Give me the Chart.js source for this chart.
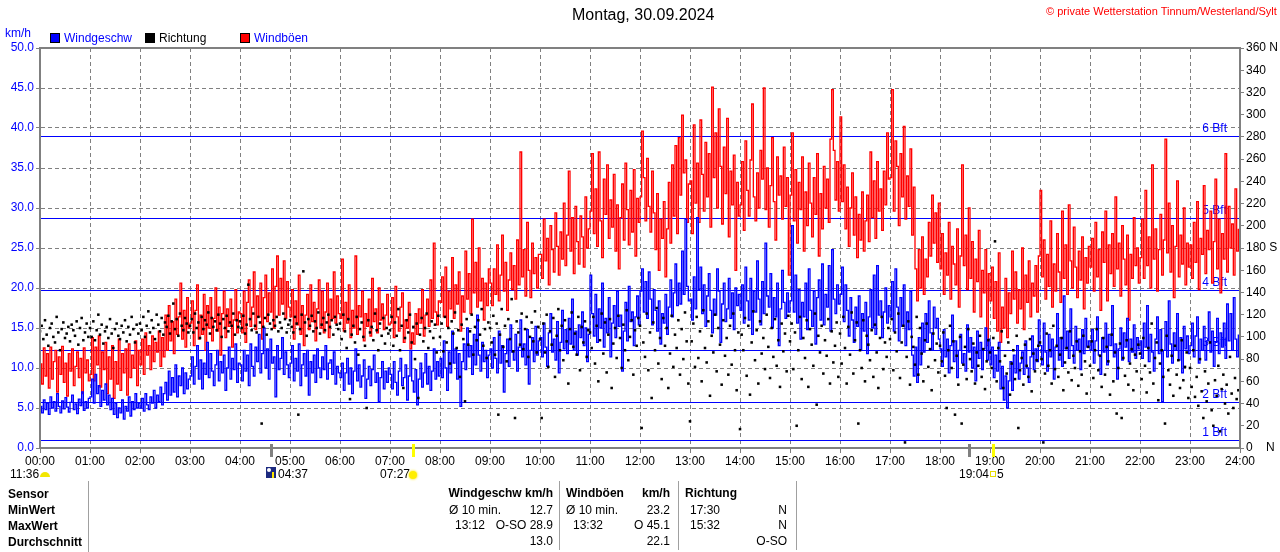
<!DOCTYPE html>
<html><head><meta charset="utf-8">
<script src="https://cdn.jsdelivr.net/npm/chart.js@4.4.1/dist/chart.umd.min.js"></script>
<style>
html,body{margin:0;padding:0;background:#fff;}
#wrap{position:relative;width:1280px;height:552px;overflow:hidden;font-family:"Liberation Sans",Arial,sans-serif;}
#wrap canvas{position:absolute;left:0;top:0;}
.t{position:absolute;white-space:nowrap;font-size:12px;line-height:14px;color:#000;}
.b{font-weight:bold;}
.box{position:absolute;width:8px;height:8px;border:1px solid #000;top:33px;}
.sep{position:absolute;width:1px;background:#a0a0a0;top:481px;height:71px;}
</style></head>
<body>
<div id="wrap">
<canvas id="c" width="1280" height="552"></canvas>
<div class="t" style="left:572px;top:6px;font-size:16px;line-height:18px;">Montag, 30.09.2024</div>
<div class="t" style="left:1046px;top:5px;font-size:11px;line-height:13px;color:#ff0000;">© private Wetterstation Tinnum/Westerland/Sylt</div>
<div class="t" style="left:5px;top:26px;color:#0000ff;">km/h</div>
<div class="box" style="left:50px;background:#0000ff;"></div>
<div class="t" style="left:64px;top:31px;color:#0000ff;">Windgeschw</div>
<div class="box" style="left:145px;background:#000;"></div>
<div class="t" style="left:159px;top:31px;">Richtung</div>
<div class="box" style="left:240px;background:#ff0000;"></div>
<div class="t" style="left:254px;top:31px;color:#0000ff;">Windböen</div>

<div class="t" style="left:10px;top:467px;">11:36</div>
<div style="position:absolute;left:40px;top:472px;width:10px;height:5px;background:#f2e600;border-radius:5px 5px 0 0;"></div>
<div style="position:absolute;left:266px;top:467px;width:10px;height:11px;background:#1c2a80;"></div>
<div style="position:absolute;left:267px;top:468px;width:4px;height:4px;background:#fff;border-radius:50%;"></div>
<div style="position:absolute;left:272px;top:472px;width:2px;height:6px;background:#ffe800;"></div>
<div class="t" style="left:278px;top:467px;">04:37</div>
<div class="t" style="left:380px;top:467px;">07:27</div>
<div style="position:absolute;left:409px;top:471px;width:8px;height:8px;background:#ffee00;border-radius:50%;box-shadow:0 0 2px 1px #fff27a;"></div>
<div class="t" style="left:959px;top:467px;">19:04</div>
<div style="position:absolute;left:990px;top:471px;width:4px;height:4px;border:1px solid #e6dc00;"></div>
<div class="t" style="left:997px;top:467px;">5</div>

<div class="sep" style="left:88px;"></div>
<div class="sep" style="left:559px;height:69px;"></div>
<div class="sep" style="left:678px;height:69px;"></div>
<div class="sep" style="left:796px;height:69px;"></div>
<div class="t b" style="left:8px;top:487px;">Sensor</div>
<div class="t b" style="left:8px;top:503px;">MinWert</div>
<div class="t b" style="left:8px;top:519px;">MaxWert</div>
<div class="t b" style="left:8px;top:535px;">Durchschnitt</div>

<div class="t b" style="right:727px;top:486px;">Windgeschw km/h</div>
<div class="t b" style="left:566px;top:486px;">Windböen</div>
<div class="t b" style="right:610px;top:486px;">km/h</div>
<div class="t b" style="left:685px;top:486px;">Richtung</div>

<div class="t" style="left:449px;top:503px;">Ø 10 min.</div>
<div class="t" style="right:727px;top:503px;">12.7</div>
<div class="t" style="left:566px;top:503px;">Ø 10 min.</div>
<div class="t" style="right:610px;top:503px;">23.2</div>
<div class="t" style="left:690px;top:503px;">17:30</div>
<div class="t" style="right:493px;top:503px;">N</div>

<div class="t" style="left:455px;top:518px;">13:12</div>
<div class="t" style="right:727px;top:518px;">O-SO 28.9</div>
<div class="t" style="left:573px;top:518px;">13:32</div>
<div class="t" style="right:610px;top:518px;">O 45.1</div>
<div class="t" style="left:690px;top:518px;">15:32</div>
<div class="t" style="right:493px;top:518px;">N</div>

<div class="t" style="right:727px;top:534px;">13.0</div>
<div class="t" style="right:610px;top:534px;">22.1</div>
<div class="t" style="right:493px;top:534px;">O-SO</div>
</div>
<script>
// wind speed km/h, one value every 2 minutes (30 per hour, one row per hour)
const windSpeed = [
5.2,4.4,6.0,4.8,5.6,4.2,6.4,5.0,5.8,4.6,6.8,5.2,4.4,5.9,4.9,6.3,5.1,4.5,5.7,6.6,4.8,5.5,4.3,6.1,5.3,7.0,4.7,5.8,5.0,6.2,
6.4,8.6,5.6,9.2,6.8,7.8,5.2,7.2,6.0,8.0,5.4,6.6,4.8,6.2,4.2,5.6,3.8,5.0,4.4,6.0,3.6,5.2,4.6,6.4,4.0,5.8,4.8,6.8,5.0,5.6,
5.0,6.2,4.6,6.8,5.4,4.8,6.4,5.6,7.2,5.0,6.6,5.8,7.6,5.4,6.8,8.2,6.0,9.6,6.6,8.8,7.0,10.4,6.4,9.0,7.8,10.0,6.8,9.4,7.4,8.6,
9.0,11.4,8.0,10.2,12.8,8.6,11.0,7.4,10.6,9.2,13.2,8.8,11.8,9.6,7.8,10.4,12.2,8.4,10.8,9.4,11.6,7.2,10.0,12.6,8.6,11.2,9.8,13.0,8.2,10.6,
10.4,8.4,12.2,9.6,11.6,7.8,13.0,10.2,9.0,12.6,10.8,14.2,9.4,11.8,15.0,10.0,12.4,8.6,13.6,10.6,11.4,6.4,12.8,9.8,11.2,13.8,9.2,12.0,10.4,8.8,
10.6,12.8,8.4,11.2,9.6,13.0,7.8,10.4,11.8,9.0,12.2,6.6,10.8,9.4,11.6,8.2,12.4,10.0,8.8,11.4,9.8,12.8,8.6,10.6,11.0,9.2,12.0,8.0,10.2,9.4,
8.8,10.6,7.2,9.4,11.2,8.0,10.0,6.8,9.6,12.4,8.4,10.4,7.6,9.0,11.0,6.2,8.6,10.2,7.8,9.8,11.6,8.2,9.4,5.8,8.8,10.8,7.4,9.6,8.2,10.0,
9.2,7.4,10.8,8.2,6.6,9.6,11.2,7.8,8.8,10.4,6.0,9.0,12.2,8.4,7.0,9.8,5.4,8.6,10.6,7.6,9.4,11.8,8.0,10.2,7.2,9.6,12.4,8.6,10.8,9.0,
11.2,8.8,13.4,10.0,7.2,12.0,9.4,14.6,10.6,12.4,8.6,11.8,5.2,10.8,13.0,9.8,15.0,11.4,12.8,9.2,14.2,10.4,16.6,11.6,9.6,13.2,10.8,12.2,8.8,11.6,
12.4,10.0,13.8,11.2,9.4,14.6,10.6,12.8,7.0,11.8,13.6,10.2,15.4,12.0,11.0,14.2,9.6,12.6,16.0,11.4,13.0,10.4,14.8,8.0,12.2,13.8,10.8,15.2,11.6,13.4,
13.8,11.4,15.6,12.6,10.2,14.4,16.8,12.0,13.6,11.0,15.8,9.4,13.2,17.2,12.4,14.8,11.8,16.2,13.0,18.6,12.2,14.6,11.6,15.4,13.8,17.0,12.8,15.0,10.8,14.2,
21.6,16.8,14.0,19.2,13.2,17.4,15.0,20.6,12.6,16.2,14.4,18.8,11.4,15.6,17.8,13.8,19.6,15.2,16.6,9.6,14.6,18.2,13.4,20.2,15.8,17.0,12.8,16.4,19.0,15.4,
19.6,22.4,17.0,20.8,16.2,22.0,18.6,15.4,19.8,17.2,14.6,18.4,13.0,16.8,15.6,19.2,14.2,17.6,21.0,16.4,19.4,23.0,17.8,20.6,18.0,24.6,19.2,28.6,20.2,18.4,
18.6,16.0,21.4,17.4,28.8,19.8,22.6,16.8,20.4,15.2,19.0,21.8,17.2,14.4,18.6,16.6,22.4,19.6,13.2,18.0,20.6,15.8,17.4,21.2,16.2,19.4,14.8,20.0,17.8,19.2,
17.2,20.4,15.6,22.6,18.4,16.0,21.2,14.2,19.6,17.0,23.4,18.6,15.4,20.8,16.8,25.6,19.0,17.6,21.8,15.0,18.8,16.4,20.6,12.8,17.4,22.2,18.2,16.2,19.4,17.0,
18.4,27.8,17.0,21.6,15.6,19.8,13.6,18.2,16.4,20.6,14.8,22.4,17.2,15.2,19.6,13.0,18.8,21.0,16.0,23.0,15.4,19.2,17.6,22.8,14.6,24.8,18.6,16.8,20.4,18.0,
19.2,22.6,15.8,20.4,17.2,14.0,18.8,16.0,13.2,17.6,15.2,19.0,12.2,16.8,14.6,18.2,11.8,16.4,19.8,15.0,21.6,14.2,22.8,16.6,18.4,13.8,17.0,20.0,15.6,17.8,
16.4,20.8,14.6,22.4,17.6,13.4,18.8,15.2,20.4,12.8,17.0,14.8,19.6,11.6,9.0,12.6,8.2,13.8,10.4,15.6,12.0,16.8,13.2,18.4,14.4,12.2,17.6,15.0,16.2,13.6,
12.4,10.2,14.8,11.4,13.6,9.4,12.8,16.6,10.8,13.4,8.8,12.2,14.2,10.6,11.8,9.6,15.4,12.0,13.8,10.0,12.6,8.4,14.6,11.2,13.2,9.8,12.4,15.0,11.0,13.6,
10.4,12.6,8.8,11.6,9.6,13.2,7.4,10.2,6.0,9.0,5.0,8.4,10.8,7.2,11.6,9.4,12.8,8.6,10.6,12.0,9.2,13.4,10.0,8.2,11.4,14.0,9.8,12.4,10.8,16.0,
12.8,10.4,15.6,12.0,9.6,14.2,11.4,13.6,8.6,12.6,16.8,11.0,13.8,10.2,19.0,12.4,14.6,11.2,17.4,12.8,10.6,15.2,12.2,13.6,9.8,14.8,11.8,16.2,12.6,13.4,
12.2,14.8,10.6,13.4,16.4,11.6,9.2,13.8,12.0,15.6,10.4,14.2,12.8,17.8,11.4,13.0,8.6,12.4,15.0,11.0,14.4,12.6,16.2,10.8,13.6,12.0,15.4,11.2,13.8,12.4,
13.4,11.2,15.6,12.6,17.8,10.8,14.2,12.0,9.6,13.6,16.4,11.8,14.8,5.8,12.2,15.8,11.4,18.4,13.0,10.6,14.4,12.2,16.8,11.0,13.8,9.4,15.2,12.4,14.0,11.8,
12.8,15.6,11.4,14.0,16.4,10.6,13.6,12.2,15.2,11.0,13.4,17.0,12.0,14.6,10.2,13.2,16.2,11.8,14.4,12.6,15.6,11.2,18.0,13.4,16.8,12.2,18.8,13.6,11.4,14.2
];
// wind gusts km/h, one value every 2 minutes
const windGusts = [
10.5,8.0,12.5,9.0,11.8,7.5,12.6,8.6,10.8,12.2,7.0,11.4,9.2,12.7,8.2,10.6,6.5,11.8,9.6,12.4,7.8,10.2,12.0,8.8,11.2,6.8,12.5,9.4,11.0,8.4,
9.2,13.8,8.4,12.6,10.4,14.0,7.6,12.0,9.8,13.2,6.8,11.4,8.6,12.8,6.2,10.8,8.0,13.6,7.2,11.8,9.4,12.4,6.6,13.0,8.8,11.6,10.0,13.4,7.8,12.2,
10.4,13.6,9.2,14.4,11.6,12.8,9.8,14.0,10.8,13.2,12.0,14.6,10.2,13.8,11.4,16.6,12.2,17.8,13.4,15.8,11.8,18.6,14.2,16.4,20.6,13.6,17.2,12.6,18.8,15.0,
15.6,18.4,12.8,17.2,20.4,13.6,16.6,14.2,19.2,12.2,17.8,15.0,18.8,13.4,16.2,20.0,14.6,17.6,11.6,16.8,19.6,13.8,17.4,15.2,18.6,12.6,16.0,19.8,14.4,17.0,
16.8,14.4,19.6,13.2,18.2,21.0,15.2,17.6,22.0,14.8,19.0,16.4,20.6,13.6,18.8,21.6,15.8,19.4,17.0,22.4,15.0,20.2,24.0,16.6,21.2,18.0,23.4,16.2,20.8,17.6,
16.4,19.8,13.6,18.4,15.4,21.6,14.2,17.8,12.8,16.6,19.2,14.8,20.4,15.8,18.2,13.4,17.4,21.0,15.0,19.6,14.4,17.0,20.6,13.8,18.6,16.2,22.0,15.6,19.0,16.8,
16.2,23.6,14.6,18.2,15.6,20.4,13.8,17.2,15.0,24.0,14.2,17.8,16.4,19.6,13.4,16.8,15.2,18.6,14.0,21.2,15.8,17.4,14.4,20.0,16.0,18.0,14.8,16.6,19.2,15.4,
15.6,18.8,13.8,20.2,16.4,14.6,17.6,19.4,13.2,16.0,15.0,18.2,12.4,14.4,13.0,16.8,14.2,17.4,15.6,19.8,14.0,16.6,18.6,15.2,21.0,16.2,25.6,17.0,15.4,18.4,
18.2,21.4,16.4,22.6,15.2,19.6,17.4,23.8,16.2,20.4,18.0,22.0,14.6,19.0,17.0,24.6,18.6,21.8,16.8,28.6,19.4,23.2,17.6,25.0,18.4,21.2,16.0,20.6,17.8,22.4,
20.6,17.8,22.4,19.2,25.4,18.4,21.6,26.6,19.6,23.2,17.2,21.0,24.4,19.8,22.8,18.6,26.0,20.4,37.0,21.4,24.8,19.0,28.2,22.2,18.8,25.6,21.8,23.8,20.0,24.2,
24.2,21.2,28.6,23.4,26.2,20.4,27.8,24.8,22.0,29.4,25.2,21.6,27.0,23.6,30.6,22.8,26.6,34.6,24.6,28.8,21.8,30.2,25.8,23.0,29.0,26.4,22.6,31.4,25.0,27.4,
29.6,36.8,26.8,32.4,25.2,37.0,28.4,23.8,33.6,29.2,35.4,26.2,31.0,27.6,34.2,24.6,30.4,22.4,28.8,33.0,26.0,35.6,29.8,25.4,32.2,27.0,34.8,24.0,31.2,28.2,
31.4,39.6,33.8,28.4,36.2,30.2,27.0,34.6,29.4,24.8,31.8,22.2,28.6,26.2,30.8,21.4,27.4,33.2,25.6,35.4,29.0,37.8,26.8,38.8,31.6,41.6,34.4,36.0,28.2,33.0,
33.4,26.8,40.4,30.6,35.6,28.2,41.0,34.2,29.6,38.2,31.4,36.8,27.6,45.1,33.8,39.4,30.0,42.4,35.2,28.0,37.6,31.8,41.2,26.4,34.6,30.4,36.6,22.2,33.2,29.0,
30.4,35.8,27.2,38.4,32.2,29.0,36.0,43.0,31.4,28.4,34.4,30.0,37.2,33.6,45.0,29.8,35.0,27.6,32.8,38.8,30.8,26.0,36.4,31.6,34.0,28.6,37.6,30.2,33.8,21.6,
31.6,39.4,28.4,34.8,25.6,33.2,29.8,36.4,24.6,32.0,27.8,35.6,30.6,26.4,33.8,29.2,36.8,24.0,31.8,27.4,35.2,30.0,33.6,28.2,38.6,44.8,37.2,31.0,35.8,29.6,
41.4,30.8,35.4,27.4,32.6,25.2,30.0,34.4,26.6,31.4,23.8,29.2,26.0,32.0,24.6,28.4,31.6,25.8,37.0,28.8,33.4,26.2,35.8,29.6,32.4,27.2,34.6,30.4,39.4,33.6,
33.8,44.8,29.6,38.4,35.2,27.8,36.8,31.4,40.2,28.6,34.0,30.2,37.4,26.6,32.6,22.4,18.4,24.8,20.0,26.4,19.2,23.6,21.4,28.2,24.0,31.6,25.6,29.4,23.2,30.6,
22.4,26.8,19.2,24.4,21.6,28.2,18.6,25.2,23.0,20.4,27.4,17.6,24.0,35.4,22.8,26.6,19.8,30.0,21.2,25.8,17.0,23.6,20.8,27.2,16.4,22.2,19.4,24.8,12.8,21.8,
18.4,22.6,16.2,20.8,14.6,24.4,13.2,17.6,15.0,21.2,13.8,19.4,16.8,24.6,18.6,22.0,15.6,19.8,17.4,25.0,14.8,21.6,18.2,23.4,16.4,20.6,19.0,22.8,17.0,24.0,
32.2,21.4,26.0,18.6,24.2,20.2,28.4,17.6,23.0,19.6,26.8,22.0,18.2,29.6,21.2,25.4,19.2,30.4,23.4,20.0,27.6,22.6,18.8,24.6,21.0,26.4,17.4,23.8,20.6,25.2,
22.6,26.2,19.6,28.2,21.4,24.8,17.2,27.0,23.2,29.6,18.4,25.4,21.8,26.8,20.2,31.4,22.4,25.6,19.0,27.8,23.6,20.4,26.6,16.0,24.2,21.2,28.8,22.8,25.0,20.6,
23.8,28.6,21.2,32.2,22.8,26.4,20.0,35.4,23.6,27.4,19.6,24.8,29.2,21.6,26.0,38.6,24.4,30.6,22.0,27.8,18.8,25.2,33.4,21.4,26.6,23.0,30.0,20.4,25.6,22.6,
25.4,21.2,28.2,23.2,30.8,19.8,26.2,24.2,32.8,21.8,27.2,24.8,29.6,20.6,25.8,33.6,22.4,28.6,19.4,26.8,23.6,36.8,22.0,30.2,25.0,28.0,21.6,32.4,24.6,27.4
];
// wind direction degrees, one value every 2 minutes
const windDir = [
105,110,98,115,102,92,108,112,100,95,118,104,88,107,113,99,103,109,96,111,106,101,114,93,108,117,97,104,112,100,
108,100,114,97,106,120,102,111,94,105,109,99,116,103,90,107,112,101,98,110,104,115,96,109,102,118,107,95,111,103,
112,106,118,100,110,123,104,115,108,98,120,111,105,117,102,113,109,119,103,114,130,107,116,101,121,110,106,117,112,104,
110,116,104,121,108,113,99,118,107,115,111,122,103,117,109,114,106,120,112,100,116,108,119,105,113,110,121,102,115,109,
114,108,119,103,111,147,116,106,121,110,104,118,113,22,109,117,102,120,112,107,115,110,118,105,113,108,121,116,104,111,
115,109,104,118,112,30,107,120,159,113,101,116,110,119,105,114,108,122,103,111,117,106,113,120,109,115,102,118,111,107,
112,98,120,105,90,116,44,102,110,95,118,84,107,113,100,92,36,115,104,109,97,121,106,88,112,101,117,94,108,103,
106,118,92,113,101,125,88,110,54,99,115,104,120,95,109,80,112,45,102,117,96,108,121,90,105,114,99,111,86,119,
100,112,87,118,95,108,76,114,103,122,90,106,64,111,98,42,116,93,105,120,84,109,97,115,102,125,92,107,81,113,
108,95,119,84,112,30,102,125,91,110,78,116,98,134,87,27,114,104,93,121,89,107,118,82,100,113,96,123,86,109,
98,27,112,86,120,73,105,93,117,64,101,125,88,110,79,115,96,58,107,122,91,103,84,118,70,109,95,114,82,106,
104,90,118,76,110,60,97,121,85,113,68,102,116,54,94,108,81,119,99,72,111,88,124,79,100,115,66,106,92,117,
110,18,95,82,121,70,104,45,113,88,126,76,99,62,117,92,108,54,85,119,73,102,90,115,66,107,80,122,96,58,
24,96,112,73,118,81,105,60,124,90,77,114,47,101,86,120,69,108,93,57,115,83,99,66,110,75,121,88,52,104,
17,102,88,117,65,110,48,95,123,79,106,58,114,85,99,71,120,91,63,108,82,116,74,97,55,112,87,103,69,119,
96,112,71,104,20,88,118,62,99,81,115,55,107,93,74,121,39,101,86,110,67,97,83,116,58,105,77,92,113,64,
103,76,118,90,58,109,84,122,67,97,113,22,88,72,115,60,101,93,79,106,64,111,86,54,99,118,71,95,82,108,
98,116,70,104,87,121,63,95,110,5,82,114,57,100,91,75,118,66,108,85,60,97,112,73,89,52,103,79,94,68,
92,78,104,65,36,88,110,72,96,30,83,57,100,22,75,91,62,107,80,69,94,58,86,74,101,64,89,53,78,97,
86,72,99,186,60,90,78,105,54,83,67,95,48,76,88,62,101,18,70,81,57,93,74,64,98,51,85,69,79,92,
95,80,5,67,103,74,88,58,110,71,92,64,84,99,52,77,90,68,105,61,83,72,96,56,87,66,101,78,49,91,
74,96,63,88,107,70,83,55,99,66,91,78,48,102,60,86,31,72,94,27,81,65,97,57,76,89,52,84,69,93,
85,62,99,74,50,90,68,112,58,81,95,43,76,88,64,22,101,70,57,83,47,92,66,79,54,97,61,73,86,45,
72,55,88,46,64,38,80,51,27,69,42,58,95,34,20,61,47,74,15,53,66,40,57,31,82,49,36,63,44,52
];
const speedStepMin = 2;
const dirStepMin = 2;
const bftLimits = [1.08, 5.76, 12.24, 19.8, 28.8, 38.88];
const bftNames = ['1 Bft','2 Bft','3 Bft','4 Bft','5 Bft','6 Bft'];
const compassNames = {0:'N', 180:'S', 360:'N'};
const markerTimes = [277, 447, 1115, 1144];
const markerKinds = ['moon','sun','moon','sun'];

const FONT = '"Liberation Sans", Arial, sans-serif';
const GRID = '#808080';
const BLUE = 'rgb(0,0,255)';

// snap a horizontal hairline to an even device row so it stays crisp
const rowOf = (scale, v) => 2 * Math.round(scale.getPixelForValue(v) / 2);

const bftPlugin = {
  id:'bft',
  beforeDatasetsDraw(chart){
    const {ctx, chartArea:a, scales} = chart;
    ctx.save();
    ctx.fillStyle = BLUE;
    bftLimits.forEach(v=>{
      ctx.fillRect(a.left, rowOf(scales.y, v), a.right - a.left, 1);
    });
    ctx.font = '12px ' + FONT;
    ctx.textAlign = 'right'; ctx.textBaseline = 'bottom';
    bftLimits.forEach((v,i)=>{
      ctx.fillText(bftNames[i], a.right - 13, rowOf(scales.y, v) - 1);
    });
    ctx.restore();
  }
};
const framePlugin = {
  id:'frame',
  afterDatasetsDraw(chart){
    const {ctx, chartArea:a} = chart;
    ctx.save();
    ctx.setLineDash([]);
    ctx.strokeStyle = GRID; ctx.lineWidth = 2;
    ctx.strokeRect(a.left, a.top, a.right - a.left, a.bottom - a.top);
    ctx.restore();
  }
};
const markerPlugin = {
  id:'markers',
  afterDraw(chart){
    const {ctx, chartArea:a, scales} = chart;
    ctx.save();
    markerTimes.forEach((t,i)=>{
      const px = Math.round(scales.x.getPixelForValue(t));
      ctx.fillStyle = markerKinds[i] === 'sun' ? '#ffff00' : '#808080';
      ctx.fillRect(px - 1, a.bottom - 4, 3, 13);
    });
    ctx.restore();
  }
};

new Chart(document.getElementById('c'), {
  type:'line',
  data:{datasets:[
    {label:'Richtung', data: windDir.map((v,i)=>({x:i*dirStepMin, y:v})), yAxisID:'y2',
     showLine:false, pointStyle:'rect', pointRadius:1.8, pointHoverRadius:0,
     pointBackgroundColor:'#000', pointBorderWidth:0, borderColor:'#000'},
    {label:'Windgeschw', data: windSpeed.map((v,i)=>({x:i*speedStepMin, y:v})), yAxisID:'y',
     borderColor:BLUE, borderWidth:1.3, pointRadius:0, stepped:true, fill:false},
    {label:'Windböen', data: windGusts.map((v,i)=>({x:i*speedStepMin, y:v})), yAxisID:'y',
     borderColor:'#ff0000', borderWidth:1.3, pointRadius:0, stepped:true, fill:false}
  ]},
  options:{
    responsive:false, animation:false, devicePixelRatio:1,
    layout:{padding:{top:48, left:0, right:0, bottom:0}},
    plugins:{legend:{display:false}, title:{display:false}, tooltip:{enabled:false}},
    events:[],
    scales:{
      x:{type:'linear', position:'bottom', min:0, max:1440,
        ticks:{stepSize:60, autoSkip:false, maxRotation:0, color:'#000', padding:1,
          font:{family:FONT, size:12},
          callback:v => String(Math.round(v/60)).padStart(2,'0') + ':00'},
        grid:{color:GRID, lineWidth:1, tickLength:5, tickColor:GRID, tickBorderDash:[]},
        border:{display:true, color:GRID, width:2, dash:[4,3]},
        afterFit:s => { s.height = 104; }},
      y:{position:'left', min:0, max:50,
        ticks:{stepSize:5, color:BLUE, padding:2, font:{family:FONT, size:12},
          callback:v => Number(v).toFixed(1)},
        grid:{color:GRID, lineWidth:1, tickLength:4, tickColor:GRID, tickBorderDash:[]},
        border:{display:true, color:GRID, width:2, dash:[4,3]},
        afterFit:s => { s.width = 40; }},
      y2:{position:'right', min:0, max:360,
        ticks:{stepSize:20, color:'#000', padding:2, font:{family:FONT, size:12},
          callback:v => compassNames[v] !== undefined ? (v === 0 ? v + '    ' : v + ' ') + compassNames[v] : String(v)},
        grid:{drawOnChartArea:false, color:GRID, tickLength:4, tickColor:GRID},
        border:{display:true, color:GRID, width:2},
        afterFit:s => { s.width = 40; }}
    }
  },
  plugins:[bftPlugin, framePlugin, markerPlugin]
});
</script>
</body></html>
